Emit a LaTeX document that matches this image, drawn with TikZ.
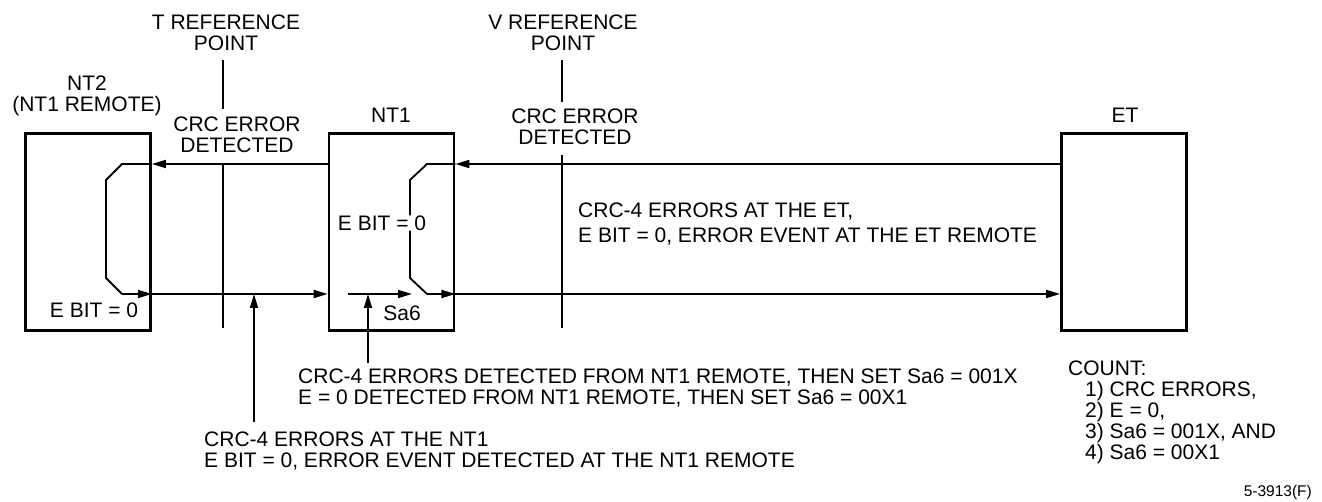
\documentclass[tikz,border=0pt]{standalone}
\usepackage{fontspec}
\setmainfont{Liberation Sans}
\usetikzlibrary{arrows.meta}
\begin{document}
\begin{tikzpicture}[x=1pt,y=-1pt,
  txt/.style={inner sep=0pt,font=\fontsize{21}{21}\selectfont,align=center},
  unit/.style={draw,line width=2.8pt,minimum width=125pt,minimum height=197pt,inner sep=0pt},
  conn/.style={line width=1.8pt},
  arr/.style={conn,-{Triangle[length=14pt,width=8pt]}},
  refl/.style={line width=1.8pt}]
\useasboundingbox (0,0) rectangle (1322,502);
% boxes
\node[unit] (nt2) at (88,232) {};
\node[unit] (nt1) at (391.5,232) {};
\node[unit] (et) at (1124,232) {};
% labels
\node[txt] (nt2lab) at (87,95.5) {NT2\\(NT1 REMOTE)};
\node[txt] (nt1lab) at (391,115) {NT1};
\node[txt] (etlab) at (1125,115) {ET};
\node[txt] (tref) at (226,32.5) {T REFERENCE\\POINT};
\node[txt] (vref) at (563,32.5) {V REFERENCE\\POINT};
\node[txt] (tcrc) at (237,134.5) {CRC ERROR\\DETECTED};
\node[txt] (vcrc) at (575,127) {CRC ERROR\\DETECTED};
\node[txt] (ebit1) at (382,223) {E BIT = 0};
\node[txt] (sa6) at (402,313) {Sa6};
\node[txt] (ebit2) at (94,310) {E BIT = 0};
\node[txt,align=left,anchor=west,font=\fontsize{21}{25.5}\selectfont] (etnote) at (578,224) {CRC-4 ERRORS AT THE ET,\\E BIT = 0, ERROR EVENT AT THE ET REMOTE};
\node[txt,align=left,anchor=west] (remnote) at (298,388) {CRC-4 ERRORS DETECTED FROM NT1 REMOTE, THEN SET Sa6 = 001X\\E = 0 DETECTED FROM NT1 REMOTE, THEN SET Sa6 = 00X1};
\node[txt,align=left,anchor=west] (ntnote) at (204,451.5) {CRC-4 ERRORS AT THE NT1\\E BIT = 0, ERROR EVENT DETECTED AT THE NT1 REMOTE};
\node[txt,align=left,anchor=west] (count) at (1068,412.5) {COUNT:\\\hspace*{17pt}1) CRC ERRORS,\\\hspace*{17pt}2) E = 0,\\\hspace*{17pt}3) Sa6 = 001X, AND\\\hspace*{17pt}4) Sa6 = 00X1};
\node[inner sep=0pt,anchor=east,font=\fontsize{15.5}{16}\selectfont] (fig) at (1312,492) {5-3913(F)};
% levels
\coordinate (yhi) at (0,164);
\coordinate (ylo) at (0,294);
% reference lines
\coordinate (tx) at (223,0);
\coordinate (vx) at (562,0);
\draw[refl] (tx |- 0,60) -- (tx |- 0,109);
\draw[refl] (tx |- yhi) -- (tx |- 0,328);
\draw[refl] (vx |- 0,60) -- (vx |- 0,102);
\draw[refl] (vx |- 0,155) -- (vx |- 0,328);
% NT1 loop points
\coordinate (n1a) at (427,164);
\coordinate (n1b) at (410,180);
\coordinate (n1c) at (410,278);
\coordinate (n1d) at (427,294);
% NT2 loop points
\coordinate (n2a) at (122,164);
\coordinate (n2b) at (106,180);
\coordinate (n2c) at (106,278);
\coordinate (n2d) at (122,294);
% upper path
\draw[arr] (et.west |- yhi) -- (nt1.east |- yhi);
\draw[conn] (nt1.east |- yhi) -- (n1a) -- (n1b) -- (n1b |- ebit1.north);
\draw[conn] (n1b |- ebit1.south) -- (n1c) -- (n1d);
\draw[arr] (n1d) -- (nt1.east |- ylo);
\draw[arr] (nt1.west |- yhi) -- (nt2.east |- yhi);
\draw[conn,line join=miter] (nt2.east |- yhi) -- (n2a) -- (n2b) -- (n2c) -- (n2d);
\draw[arr] (n2d) -- (nt2.east |- ylo);
\draw[arr] (nt2.east |- ylo) -- (nt1.west |- ylo);
\draw[arr] (nt1.east |- ylo) -- (et.west |- ylo);
% Sa6 arrow inside NT1
\coordinate (sa6s) at (348,294);
\coordinate (sa6e) at (412,294);
\draw[arr] (sa6s) -- (sa6e);
% up arrows
\coordinate (up1) at (254,422);
\coordinate (up2) at (368,363);
\draw[arr] (up1) -- (up1 |- ylo);
\draw[arr] (up2) -- (up2 |- ylo);
\end{tikzpicture}
\end{document}
